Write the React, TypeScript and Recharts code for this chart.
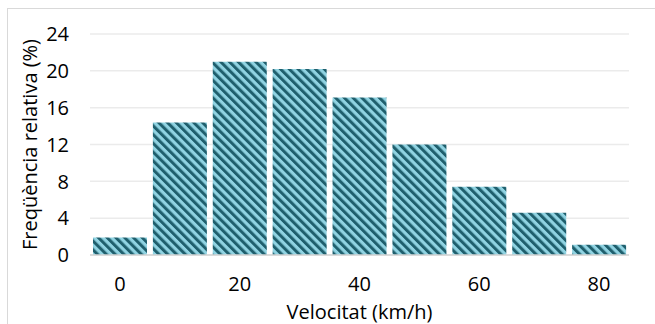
import { BarChart, Bar, XAxis, YAxis, CartesianGrid, Label } from 'recharts'

const speeds = ['0', '10', '20', '30', '40', '50', '60', '70', '80']
const freqs = [1.9, 14.4, 21.0, 20.2, 17.1, 12.0, 7.4, 4.6, 1.1]
const yTicks = [0, 2, 4, 6, 8, 10, 12, 14, 16, 18, 20, 22, 24]

const data = speeds.map((s, i) => ({ speed: s, freq: freqs[i] }))

const FONT = '"Open Sans", Lato, sans-serif'

// only every second gridline carries a label
function YTick({ x, y, payload }: { x?: number; y?: number; payload?: { value: number } }) {
  if (!payload || payload.value % 4 !== 0) return null
  return (
    <text x={x} y={y} dy="0.36em" textAnchor="end" fontSize={20} fontFamily={FONT} fill="#000">
      {payload.value}
    </text>
  )
}

export default function App() {
  return (
    <div
      style={{
        position: 'absolute',
        left: 7,
        top: 8,
        width: 660,
        height: 330,
        border: '1px solid #d9d9d9',
        background: '#fff',
      }}
    >
      <BarChart
        width={648}
        height={316}
        data={data}
        margin={{ top: 25, right: 27, bottom: 0, left: 20 }}
        barCategoryGap="5%"
      >
        <defs>
          <pattern
            id="hatch"
            patternUnits="userSpaceOnUse"
            width={6.2}
            height={6.2}
            patternTransform="rotate(-45)"
          >
            <rect x={0} y={0} width={6.2} height={6.2} fill="#90d3e2" />
            <rect x={0} y={0} width={3} height={6.2} fill="#1f5f6d" />
          </pattern>
        </defs>
        <CartesianGrid vertical={false} stroke="#ebebeb" strokeWidth={1.5} />
        <XAxis
          dataKey="speed"
          interval={1}
          height={70}
          tickLine={false}
          axisLine={{ stroke: '#d4d4d4', strokeWidth: 1.5 }}
          tickMargin={16}
          tick={{ fontSize: 20, fontFamily: FONT, fill: '#000' }}
        >
          <Label
            value="Velocitat (km/h)"
            position="insideBottom"
            offset={6}
            style={{ fontSize: 20, fontFamily: FONT, fill: '#000' }}
          />
        </XAxis>
        <YAxis
          domain={[0, 24]}
          ticks={yTicks}
          width={62}
          tickLine={false}
          axisLine={false}
          tickMargin={15}
          tick={<YTick />}
        >
          <Label
            value="Freqüència relativa (%)"
            angle={-90}
            position="insideLeft"
            offset={2}
            style={{ fontSize: 20, fontFamily: FONT, fill: '#000', textAnchor: 'middle' }}
          />
        </YAxis>
        <Bar dataKey="freq" fill="url(#hatch)" isAnimationActive={false} />
      </BarChart>
    </div>
  )
}
